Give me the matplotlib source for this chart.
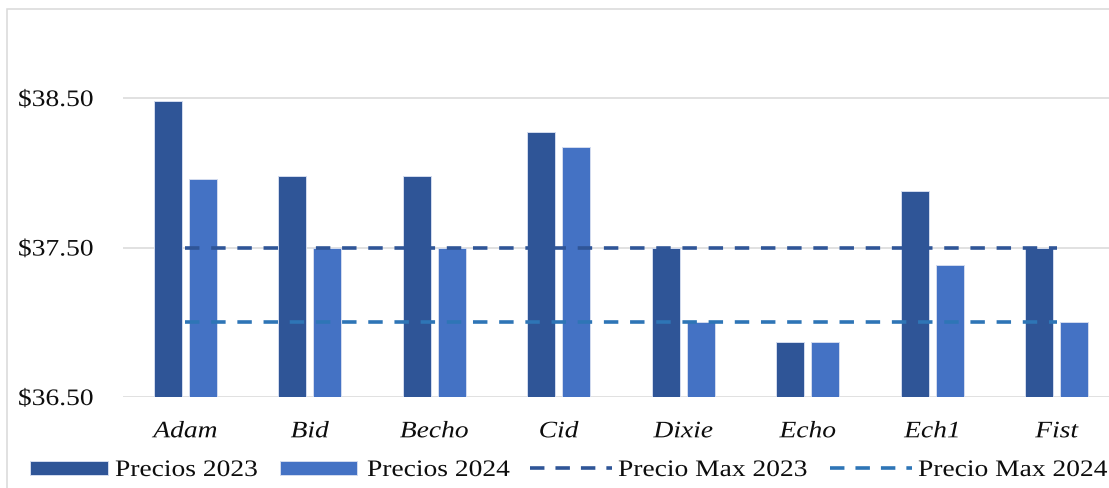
import matplotlib
matplotlib.use("Agg")
import matplotlib.pyplot as plt
from matplotlib.patches import Rectangle
from matplotlib.lines import Line2D
from matplotlib.patheffects import AbstractPathEffect
from matplotlib.transforms import Affine2D
from matplotlib.ticker import FixedLocator, FuncFormatter
import numpy as np

# ---- data -------------------------------------------------------------
categories = ["Adam", "Bid", "Becho", "Cid", "Dixie", "Echo", "Ech1", "Fist"]
precios_2023 = [38.48, 37.98, 37.98, 38.27, 37.50, 36.87, 37.88, 37.50]
precios_2024 = [37.96, 37.50, 37.50, 38.17, 37.00, 36.87, 37.38, 37.00]
precio_max_2023 = [37.50] * 8
precio_max_2024 = [37.00] * 8
y_ticks = [36.50, 37.50, 38.50]
series_labels = ["Precios 2023", "Precios 2024", "Precio Max 2023", "Precio Max 2024"]

# ---- style ------------------------------------------------------------
C_2023 = "#2F5597"
C_2024 = "#4472C4"
C_MAX23 = "#2F5597"
C_MAX24 = "#2E75B6"
GRID = "#D9D9D9"
TXT = "#0d0d0d"
FONT = "Liberation Serif"
FS = 17
SX = 1.165
W, H = 1109, 489


class HStretch(AbstractPathEffect):
    """Widen glyph outlines horizontally around the text's anchor."""

    def __init__(self, sx=1.2, anchor="left"):
        super().__init__()
        self.sx = sx
        self.anchor = anchor

    def draw_path(self, renderer, gc, tpath, affine, rgbFace=None):
        ext = tpath.get_extents()
        if self.anchor == "center":
            x0 = (ext.x0 + ext.x1) / 2
        elif self.anchor == "right":
            x0 = ext.x1
        else:
            x0 = 0.0
        pre = Affine2D().translate(-x0, 0).scale(self.sx, 1).translate(x0, 0)
        renderer.draw_path(gc, tpath, pre + affine, rgbFace)


def fx(px):
    return px / W


def fy(py):
    return 1 - py / H


fig = plt.figure(figsize=(W / 100, H / 100), dpi=100)
fig.patch.set_facecolor("white")

# chart frame
fig.patches.append(Rectangle((fx(7), fy(H + 20)), fx(W + 20), fy(10) - fy(H + 20),
                             transform=fig.transFigure, fill=False,
                             edgecolor=GRID, linewidth=1.1, zorder=0))

ax = fig.add_axes([fx(123), fy(398), 996 / W, (398 - 24.25) / H])
ax.set_xlim(-0.5, 7.5)
ax.set_ylim(36.5, 39.0)

x = np.arange(len(categories))
bw = 0.225
off = 0.1406
ax.bar(x - off, np.array(precios_2023) - 36.5, bottom=36.5, width=bw, color=C_2023,
       edgecolor="#D3DCEF", linewidth=0.7, zorder=2)
ax.bar(x + off, np.array(precios_2024) - 36.5, bottom=36.5, width=bw, color=C_2024,
       edgecolor="#D3DCEF", linewidth=0.7, zorder=2)

ln23, = ax.plot(x, precio_max_2023, color=C_MAX23, linewidth=2.6, zorder=3)
ln24, = ax.plot(x, precio_max_2024, color=C_MAX24, linewidth=2.6, zorder=3)
for ln in (ln23, ln24):
    ln.set_dashes((4.0, 3.25))
    ln.set_dash_capstyle("butt")

# gridlines
for yv in y_ticks:
    ax.axhline(yv, color=GRID, linewidth=1.1, zorder=1)

for s in ax.spines.values():
    s.set_visible(False)

ax.yaxis.set_major_locator(FixedLocator(y_ticks))
ax.yaxis.set_major_formatter(FuncFormatter(lambda v, p: f"${v:.2f}"))
ax.set_xticks(x)
ax.set_xticklabels(categories)
ax.tick_params(axis="both", length=0)
ax.tick_params(axis="y", pad=21.5)
ax.tick_params(axis="x", pad=17.5)

for lbl in ax.get_yticklabels():
    lbl.set_fontfamily(FONT)
    lbl.set_fontsize(FS)
    lbl.set_color(TXT)
    lbl.set_path_effects([HStretch(SX, "right")])
for lbl in ax.get_xticklabels():
    lbl.set_fontfamily(FONT)
    lbl.set_fontsize(FS)
    lbl.set_fontstyle("italic")
    lbl.set_color(TXT)
    lbl.set_path_effects([HStretch(SX, "center")])

# ---- legend row -------------------------------------------------------
ly = 469
fig.patches.append(Rectangle((fx(30), fy(476)), fx(78), fy(462) - fy(476),
                             transform=fig.transFigure, color=C_2023, ec="#D3DCEF", lw=0.7))
fig.patches.append(Rectangle((fx(280), fy(476)), fx(77), fy(462) - fy(476),
                             transform=fig.transFigure, color=C_2024, ec="#D3DCEF", lw=0.7))
for (xa, xb), col in (((530, 612), C_MAX23), ((830, 912), C_MAX24)):
    lg = Line2D([fx(xa), fx(xb)], [fy(ly), fy(ly)], transform=fig.transFigure,
                color=col, linewidth=2.6, solid_capstyle="butt")
    lg.set_dashes((4.0, 3.05))
    lg.set_dash_capstyle("butt")
    fig.lines.append(lg)

for xs, txt in zip((115, 367, 618, 918), series_labels):
    fig.text(fx(xs), fy(ly), txt, fontfamily=FONT, fontsize=FS, color=TXT,
             ha="left", va="center_baseline",
             path_effects=[HStretch(SX, "left")])

fig.savefig("out.png", dpi=100, facecolor="white")
